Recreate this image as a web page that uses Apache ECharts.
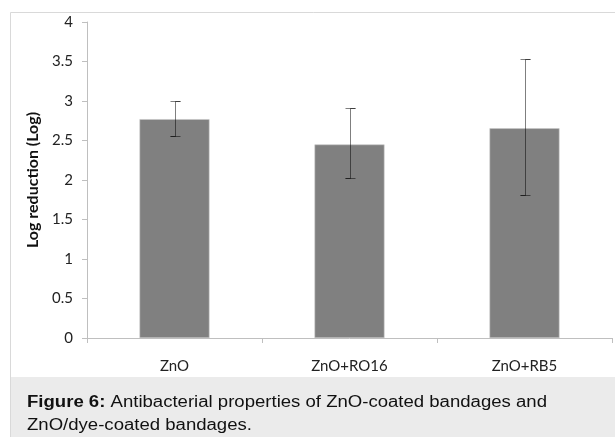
<!DOCTYPE html>
<html><head><meta charset="utf-8">
<script src="https://cdn.jsdelivr.net/npm/echarts@6/dist/echarts.min.js"></script>
<style>html,body{margin:0;padding:0;background:#fff}#c{width:615px;height:437px}</style>
</head><body><div id="c"></div>
<script>
const categories = ['ZnO', 'ZnO+RO16', 'ZnO+RB5'];
const values = [2.77, 2.45, 2.655];
const errLow = [2.56, 2.025, 1.806];
const errHigh = [3.0, 2.91, 3.53];
const yTicks = [0, 0.5, 1, 1.5, 2, 2.5, 3, 3.5, 4];
const yName = 'Log reduction (Log)';
const captionBold = 'Figure 6:';
const captionLine1 = ' Antibacterial properties of ZnO-coated bandages and';
const captionLine2 = 'ZnO/dye-coated bandages.';

const chart = echarts.init(document.getElementById('c'), null, {renderer: 'canvas'});
const errData = categories.map((c, i) => [i, errLow[i], errHigh[i]]);
chart.setOption({
  animation: false,
  backgroundColor: '#fff',
  grid: {left: 87, right: 3, top: 22, bottom: 99},
  xAxis: {
    type: 'category', data: categories,
    axisLine: {lineStyle: {color: '#bfbfbf'}},
    axisTick: {show: true, length: 5, lineStyle: {color: '#bfbfbf'}},
    axisLabel: {color: '#222', fontFamily: 'Lato', fontSize: 15, margin: 21}
  },
  yAxis: {
    type: 'value', min: yTicks[0], max: yTicks[yTicks.length - 1], interval: 0.5,
    name: yName, nameLocation: 'middle', nameGap: 45,
    nameTextStyle: {fontFamily: 'Lato', fontWeight: 'bold', fontSize: 16, color: '#111'},
    axisLine: {show: true, lineStyle: {color: '#bfbfbf'}},
    axisTick: {show: true, length: 5, lineStyle: {color: '#bfbfbf'}},
    axisLabel: {color: '#222', fontFamily: 'Lato', fontSize: 15, margin: 14},
    splitLine: {show: false}
  },
  series: [
    {
      type: 'bar', data: values, barWidth: '40%',
      itemStyle: {color: '#808080', borderColor: '#c8c8c8', borderWidth: 0.6}
    },
    {
      type: 'custom', data: errData, z: 5,
      renderItem: function (params, api) {
        const x = api.value(0);
        const lo = api.coord([x, api.value(1)]);
        const hi = api.coord([x, api.value(2)]);
        const cx = Math.round(lo[0]) + 0.5;
        const ly = Math.round(lo[1]) + 0.5, hy = Math.round(hi[1]) + 0.5;
        const w = 5;
        const st = {stroke: 'rgba(0,0,0,0.5)', lineWidth: 1, fill: null};
        return {type: 'polyline', shape: {points: [
          [cx - w, hy], [cx + w, hy], [cx, hy], [cx, ly], [cx - w, ly], [cx + w, ly]
        ]}, style: st};
      }
    }
  ],
  graphic: [
    {type: 'rect', z: -10, shape: {x: 10.5, y: 12.5, width: 620, height: 440}, style: {fill: 'none', stroke: '#d9d9d9', lineWidth: 1}},
    {type: 'rect', z: -5, shape: {x: 11, y: 377, width: 610, height: 60}, style: {fill: '#ebebeb'}},
    {type: 'text', x: 27, y: 391, scaleX: 1.16, style: {
      text: '{b|' + captionBold + '}{n|' + captionLine1 + '}\n{n|' + captionLine2 + '}',
      verticalAlign: 'top',
      rich: {
        b: {fontFamily: 'Liberation Sans', fontWeight: 'bold', fontSize: 16, lineHeight: 23, fill: '#111'},
        n: {fontFamily: 'Liberation Sans', fontSize: 16, lineHeight: 23, fill: '#111'}
      }
    }}
  ]
});
</script></body></html>
